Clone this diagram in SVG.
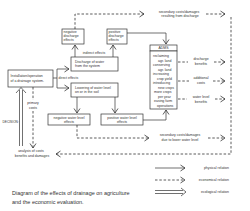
<svg xmlns="http://www.w3.org/2000/svg" width="250" height="211" viewBox="0 0 250 211">
<style>
.b{fill:#fff;stroke:#333;stroke-width:0.7}
.t{font-family:"Liberation Sans",Arial,sans-serif;font-size:3.5px;fill:#333}
.c{text-anchor:middle}
.e{text-anchor:end}
.s{fill:none;stroke:#333;stroke-width:0.7}
.d{fill:none;stroke:#333;stroke-width:0.8;stroke-dasharray:2.5 1.8}
.cap{font-family:"Liberation Sans",Arial,sans-serif;font-size:5.5px;fill:#333}
</style>
<defs>
<marker id="ah" viewBox="0 0 8 8" refX="6" refY="4" markerWidth="8" markerHeight="8" markerUnits="userSpaceOnUse" orient="auto">
<path d="M1.5,1 L6,4 L1.5,7" fill="none" stroke="#333" stroke-width="0.8"/>
</marker>
</defs>
<rect width="250" height="211" fill="#fff"/>

<g id="connectors">
<path class="d" d="M75,29 V14 H144" marker-end="url(#ah)"/>
<path class="d" d="M206,14 H225" marker-end="url(#ah)"/>
<path class="d" d="M231,17 V154 H56" marker-end="url(#ah)"/>
<path class="s" d="M75,57 V45" marker-end="url(#ah)"/>
<path class="s" d="M113,57 V45" marker-end="url(#ah)"/>
<path class="s" d="M53,78 H57 M57,69 V88"/>
<path class="s" d="M57,69 H69" marker-end="url(#ah)"/>
<path class="s" d="M57,88 H69" marker-end="url(#ah)"/>
<path class="s" d="M77,97 V113" marker-end="url(#ah)"/>
<path class="s" d="M115,97 V113" marker-end="url(#ah)"/>
<path class="s" d="M127,33 H166 V44" marker-end="url(#ah)"/>
<path class="s" d="M143,120 H166 V110" marker-end="url(#ah)"/>
<path class="d" d="M77,125 V138 H149" marker-end="url(#ah)"/>
<path class="d" d="M208,138 H225" marker-end="url(#ah)"/>
<path class="d" d="M178,62 H188"/>
<path class="d" d="M214,62 H225" marker-end="url(#ah)"/>
<path class="d" d="M178,81 H189"/>
<path class="d" d="M213,81 H225" marker-end="url(#ah)"/>
<path class="d" d="M178,99 H187"/>
<path class="d" d="M215,99 H225" marker-end="url(#ah)"/>
<path class="d" d="M33,87 V100"/>
<path class="d" d="M33,111 V148" marker-end="url(#ah)"/>
<path class="s" d="M19.5,146 V90 M22.5,146 V90"/>
<path class="s" d="M16,93 L21,87.5 L26,93"/>
</g>

<g id="n_secdis">
<text class="t c" x="179" y="12.5">secondary costs/damages</text>
<text class="t c" x="180" y="17">resulting from discharge</text>
</g>

<g id="n_negdis">
<rect class="b" x="62" y="29" width="22" height="15"/>
<text class="t" x="63.5" y="33">negative</text>
<text class="t" x="63.5" y="37">discharge</text>
<text class="t" x="63.5" y="41">effects</text>
</g>

<g id="n_posdis">
<rect class="b" x="107" y="29" width="20" height="15"/>
<text class="t" x="108.5" y="33">positive</text>
<text class="t" x="108.5" y="37">discharge</text>
<text class="t" x="108.5" y="41">effects</text>
</g>

<g id="l_indirect">
<text class="t c" x="94" y="54">indirect effects</text>
</g>

<g id="n_discharge">
<rect class="b" x="71" y="57" width="47" height="14"/>
<text class="t" x="75" y="62.5">Discharge of water</text>
<text class="t" x="75" y="67">from the system</text>
</g>

<g id="n_install">
<rect class="b" x="8" y="70" width="45" height="17"/>
<text class="t" x="10.5" y="76.5">Installation/operation</text>
<text class="t" x="10.5" y="81.5">of a drainage system.</text>
</g>

<g id="l_direct">
<text class="t" x="58.5" y="79">direct effects</text>
</g>

<g id="n_lowering">
<rect class="b" x="71" y="83" width="47" height="14"/>
<text class="t" x="75" y="88.5">Lowering of water level</text>
<text class="t" x="75" y="93">on or in the soil</text>
</g>

<g id="n_adms">
<rect class="b" x="150" y="45" width="27" height="6"/>
<text class="t c" x="163.5" y="49.3">ADMS</text>
<rect class="b" x="150" y="51" width="27" height="58"/>
<text class="t" x="153" y="57">reclaiming</text>
<text class="t" x="158" y="61.5">agr. land</text>
<text class="t" x="153" y="66">conserving</text>
<text class="t" x="158" y="70.5">agr. land</text>
<text class="t" x="153" y="75">increasing</text>
<text class="t" x="157" y="79.5">crop yield</text>
<text class="t" x="153" y="84">introducing</text>
<text class="t" x="158" y="88.5">new crops</text>
<text class="t" x="154" y="93">more crops</text>
<text class="t" x="158" y="97.5">per year</text>
<text class="t" x="154" y="102">easing farm</text>
<text class="t" x="157" y="106.5">operations</text>
</g>

<g id="n_disben">
<text class="t c" x="201" y="60">discharge</text>
<text class="t c" x="201" y="65">benefits</text>
</g>
<g id="n_addcost">
<text class="t c" x="201" y="79">additional</text>
<text class="t c" x="201" y="84">costs</text>
</g>
<g id="n_wlben">
<text class="t c" x="201" y="98">water level</text>
<text class="t c" x="201" y="102.5">benefits</text>
</g>

<g id="l_primary">
<text class="t c" x="33" y="104">primary</text>
<text class="t c" x="33" y="108.5">costs</text>
</g>

<g id="l_decision">
<text class="t" x="2.5" y="123" style="font-size:3.2px">DECISION:</text>
</g>

<g id="n_negwl">
<rect class="b" x="48" y="114" width="42" height="11"/>
<text class="t c" x="69" y="118.5">negative water level</text>
<text class="t c" x="69" y="123">effects</text>
</g>

<g id="n_poswl">
<rect class="b" x="101" y="114" width="42" height="11"/>
<text class="t c" x="122" y="118.5">positive water level</text>
<text class="t c" x="122" y="123">effects</text>
</g>

<g id="n_seclow">
<text class="t c" x="180" y="136">secondary costs/damages</text>
<text class="t c" x="180" y="141">due to lower water level</text>
</g>

<g id="n_analysis">
<text class="t c" x="31" y="151.5">analysis of costs</text>
<text class="t c" x="32" y="156.5">benefits and damages</text>
</g>

<g id="legend">
<path class="s" d="M155,168 H185" marker-end="url(#ah)"/>
<path class="d" d="M155,180 H185" marker-end="url(#ah)"/>
<path class="s" d="M155,190.5 H183 M155,193.5 H183"/>
<path class="s" d="M181,188 L186,192 L181,196"/>
<text class="t e" x="229" y="169">physical relation</text>
<text class="t e" x="229" y="181">economical relation</text>
<text class="t e" x="229" y="193">ecological relation</text>
</g>

<g id="caption">
<text class="cap" x="12" y="194.5">Diagram of the effects of drainage on agriculture</text>
<text class="cap" x="12" y="204">and the economic evaluation.</text>
</g>
</svg>
